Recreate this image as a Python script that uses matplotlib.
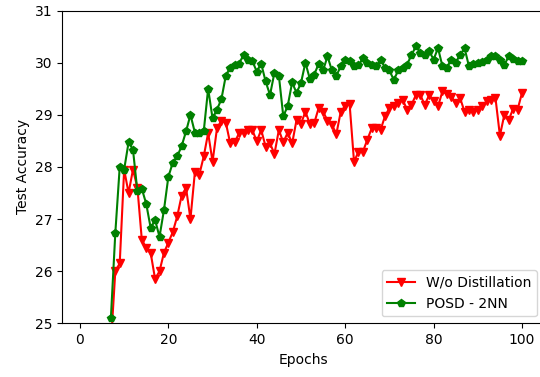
import matplotlib
matplotlib.use("Agg")
import matplotlib.pyplot as plt
import numpy as np

epochs = list(range(7, 101))

wo_distillation = [
    24.6, 26.0, 26.15, 27.95, 27.5, 27.95, 27.6, 26.6, 26.45, 26.35,   # 7-16
    25.85, 26.0, 26.35, 26.55, 26.75, 27.05, 27.45, 27.6, 27.0, 27.9,  # 17-26
    27.85, 28.2, 28.65, 28.1, 28.74, 28.89, 28.85, 28.45, 28.47, 28.65,  # 27-36
    28.65, 28.7, 28.71, 28.49, 28.71, 28.39, 28.45, 28.25, 28.71, 28.47,  # 37-46
    28.66, 28.45, 28.9, 28.83, 29.06, 28.83, 28.84, 29.13, 29.06, 28.89,  # 47-56
    28.81, 28.63, 29.06, 29.17, 29.21, 28.1, 28.29, 28.29, 28.52, 28.74,  # 57-66
    28.74, 28.71, 28.97, 29.13, 29.16, 29.22, 29.29, 29.1, 29.19, 29.38,  # 67-76
    29.38, 29.19, 29.38, 29.26, 29.16, 29.45, 29.4, 29.35, 29.22, 29.32,  # 77-86
    29.06, 29.1, 29.06, 29.1, 29.17, 29.26, 29.29, 29.32, 28.6, 29.0,   # 87-96
    28.9, 29.12, 29.1, 29.42,                                            # 97-100
]

posd_2nn = [
    25.1, 26.73, 28.0, 27.95, 28.47, 28.33, 27.53, 27.58, 27.29, 26.83,  # 7-16
    26.98, 26.66, 27.17, 27.81, 28.08, 28.2, 28.4, 28.68, 29.0, 28.66,   # 17-26
    28.65, 28.68, 29.5, 28.93, 29.1, 29.3, 29.75, 29.9, 29.96, 29.98,    # 27-36
    30.15, 30.06, 30.03, 29.83, 29.98, 29.64, 29.38, 29.81, 29.75, 28.97,  # 37-46
    29.17, 29.62, 29.42, 29.61, 30.0, 29.69, 29.77, 29.98, 29.85, 30.12,  # 47-56
    29.85, 29.75, 29.93, 30.06, 30.03, 29.93, 29.95, 30.08, 29.99, 29.96,  # 57-66
    29.93, 30.06, 29.9, 29.85, 29.67, 29.85, 29.9, 29.96, 30.15, 30.31,  # 67-76
    30.19, 30.15, 30.22, 30.06, 30.28, 29.93, 29.9, 30.06, 30.0, 30.15,  # 77-86
    30.28, 29.93, 29.98, 29.99, 30.02, 30.06, 30.12, 30.13, 30.06, 29.96,  # 87-96
    30.12, 30.07, 30.03, 30.03,                                          # 97-100
]

series_labels = ["W/o Distillation", "POSD - 2NN"]
x_ticks = [0, 20, 40, 60, 80, 100]
y_ticks = [25, 26, 27, 28, 29, 30, 31]

fig = plt.figure(figsize=(5.40, 3.77), dpi=100)
ax = fig.add_axes([0.1157, 0.1424, 0.8915, 0.8297])

ax.plot(epochs, wo_distillation, color="red", marker="v", markersize=6,
        linewidth=1.5, label=series_labels[0])
ax.plot(epochs, posd_2nn, color="green", marker="p", markersize=6,
        linewidth=1.5, label=series_labels[1])

ax.set_xlim(-3.95, 104.95)
ax.set_ylim(25, 31)
ax.set_xticks(x_ticks)
ax.set_yticks(y_ticks)
ax.set_xlabel("Epochs", fontsize=10)
ax.set_ylabel("Test Accuracy", fontsize=10)
ax.tick_params(labelsize=10)
ax.legend(loc="lower right", fontsize=10)

fig.savefig("out.png", dpi=100)
